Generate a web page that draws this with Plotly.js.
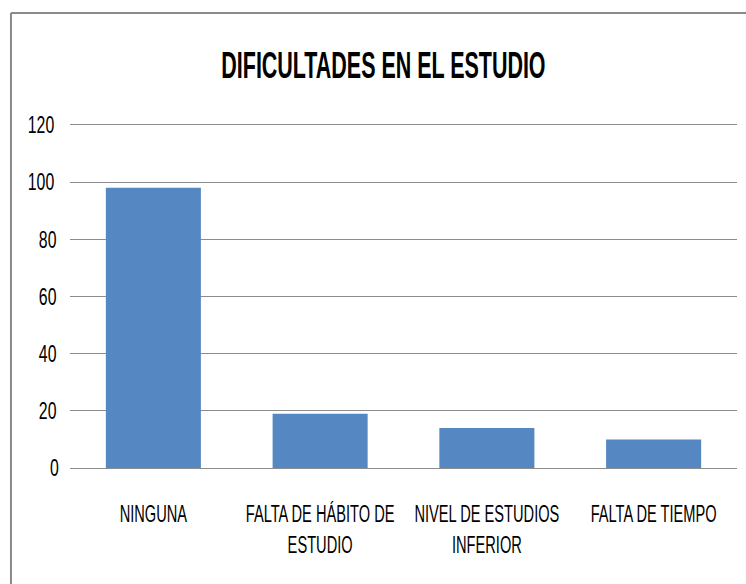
<!DOCTYPE html>
<html><head><meta charset="utf-8">
<script src="https://cdn.plot.ly/plotly-3.0.1.min.js"></script>
<style>html,body{margin:0;padding:0;background:#fff;}</style>
</head><body>
<div id="chart" style="width:746px;height:584px;"></div>
<script>
const categories = ["NINGUNA", "FALTA DE HÁBITO DE<br>ESTUDIO", "NIVEL DE ESTUDIOS<br>INFERIOR", "FALTA DE TIEMPO"];
const values = [98, 19, 14, 10];
const yTicks = [0, 20, 40, 60, 80, 100, 120];
const chartTitle = "DIFICULTADES EN EL ESTUDIO";

const fontFam = "'Liberation Sans', Arial, sans-serif";

const trace = {
  type: 'bar',
  x: categories,
  y: values,
  marker: {color: '#5588c3', line: {width: 0}},
  hoverinfo: 'none'
};

const frameLine = {color: '#8a8a8a', width: 2};

const layout = {
  width: 746, height: 584,
  margin: {l: 70, r: 9, t: 122, b: 116},
  paper_bgcolor: '#ffffff',
  plot_bgcolor: '#ffffff',
  bargap: 0.43,
  showlegend: false,
  title: {
    text: '<b>' + chartTitle + '</b>',
    font: {family: fontFam, size: 37, color: '#000'},
    x: 0.514, xanchor: 'center',
    y: 0.888, yanchor: 'middle'
  },
  xaxis: {
    type: 'category',
    showgrid: false,
    showline: false,
    zeroline: false,
    ticks: '',
    tickangle: 0,
    tickfont: {family: fontFam, size: 24, color: '#000'},
    ticklabelstandoff: 29,
    fixedrange: true
  },
  yaxis: {
    range: [0, 121],
    tickvals: yTicks,
    ticktext: yTicks.map(String),
    showgrid: true,
    gridcolor: '#8c8c8c',
    gridwidth: 1,
    zeroline: true,
    zerolinecolor: '#8c8c8c',
    zerolinewidth: 1,
    showline: false,
    ticks: '',
    tickfont: {family: fontFam, size: 24, color: '#000'},
    ticklabelstandoff: 8,
    fixedrange: true
  },
  shapes: [
    {type: 'line', xref: 'paper', yref: 'paper', x0: -0.0885, x1: 1.06, y0: 1.315, y1: 1.315, line: frameLine, layer: 'below'},
    {type: 'line', xref: 'paper', yref: 'paper', x0: -0.0885, x1: -0.0885, y0: 1.315, y1: -0.6, line: frameLine, layer: 'below'}
  ]
};

function condense(sel, s) {
  document.querySelectorAll(sel).forEach(function (t) {
    const bb = t.getBBox();
    const cx = bb.x + bb.width / 2;
    const prev = t.getAttribute('transform') || '';
    t.setAttribute('transform', prev + ' translate(' + cx + ',0) scale(' + s + ',1) translate(' + (-cx) + ',0)');
  });
}

Plotly.newPlot('chart', [trace], layout, {displayModeBar: false, staticPlot: true}).then(function () {
  condense('.gtitle', 0.58);
  condense('.xtick text', 0.61);
  condense('.ytick text', 0.66);
});
</script>
</body></html>
